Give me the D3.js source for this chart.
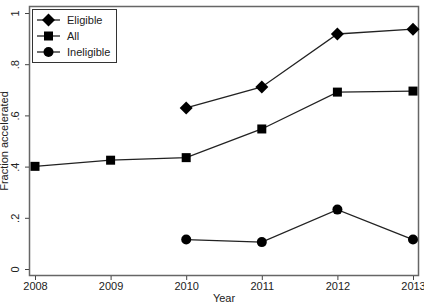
<!DOCTYPE html>
<html>
<head>
<meta charset="utf-8">
<script src="https://cdn.jsdelivr.net/npm/d3@7"></script>
<style>
  body { margin: 0; background: #fff; }
  text { font-family: "Liberation Sans", Arial, sans-serif; fill: #222; }
</style>
</head>
<body>
<script>
var years = [2008, 2009, 2010, 2011, 2012, 2013];
var eligible = [null, null, 0.629, 0.711, 0.918, 0.937];
var all = [0.401, 0.425, 0.435, 0.547, 0.691, 0.695];
var ineligible = [null, null, 0.115, 0.105, 0.232, 0.115];
var yTicks = [0, 0.2, 0.4, 0.6, 0.8, 1];
var yLabels = ["0", ".2", ".4", ".6", ".8", "1"];

var width = 424, height = 303;

var svg = d3.select("body").append("svg")
    .attr("width", width)
    .attr("height", height);

var x = d3.scaleLinear().domain([2008, 2013]).range([35, 413]);
var y = d3.scaleLinear().domain([0, 1]).range([269, 13]);

// plot region box
svg.append("rect")
    .attr("x", 29.5).attr("y", 6.5)
    .attr("width", 389).attr("height", 269)
    .attr("fill", "none")
    .attr("stroke", "#666")
    .attr("stroke-width", 1.5);

// x axis
var xAxis = svg.append("g")
    .attr("transform", "translate(0,276)")
    .call(d3.axisBottom(x).tickValues(years).tickFormat(d3.format("d")).tickSize(4).tickPadding(2));
xAxis.select(".domain").remove();
xAxis.selectAll("line").attr("stroke", "#444");
xAxis.selectAll("text").style("font-size", "11px").attr("fill", "#222");

// y axis, rotated labels
var yAxis = svg.append("g")
    .attr("transform", "translate(29,0)")
    .call(d3.axisLeft(y).tickValues(yTicks).tickFormat(function (d, i) { return yLabels[i]; }).tickSize(4));
yAxis.select(".domain").remove();
yAxis.selectAll("line").attr("stroke", "#444");
yAxis.selectAll("text")
    .style("font-size", "11px")
    .attr("fill", "#222")
    .attr("x", null).attr("dy", null)
    .attr("text-anchor", "middle")
    .attr("transform", "translate(-10,0) rotate(-90)");

// titles
svg.append("text")
    .attr("x", 224).attr("y", 302)
    .attr("text-anchor", "middle")
    .style("font-size", "11px")
    .text("Year");

svg.append("text")
    .attr("transform", "translate(8,141) rotate(-90)")
    .attr("text-anchor", "middle")
    .style("font-size", "11px")
    .text("Fraction accelerated");

var series = [
    { name: "Eligible", values: eligible, shape: "diamond" },
    { name: "All", values: all, shape: "square" },
    { name: "Ineligible", values: ineligible, shape: "circle" }
];

var line = d3.line()
    .defined(function (d) { return d.v != null; })
    .x(function (d) { return x(d.year); })
    .y(function (d) { return y(d.v); });

function drawMarker(g, shape, cx, cy) {
  if (shape === "diamond") {
    g.append("path")
        .attr("d", "M" + cx + "," + (cy - 6.5) + "L" + (cx + 6.5) + "," + cy + "L" + cx + "," + (cy + 6.5) + "L" + (cx - 6.5) + "," + cy + "Z")
        .attr("fill", "#000");
  } else if (shape === "square") {
    g.append("rect")
        .attr("x", cx - 4.5).attr("y", cy - 4.5)
        .attr("width", 9).attr("height", 9)
        .attr("fill", "#000");
  } else {
    g.append("circle")
        .attr("cx", cx).attr("cy", cy).attr("r", 5)
        .attr("fill", "#000");
  }
}

series.forEach(function (s) {
  var pts = years.map(function (yr, i) { return { year: yr, v: s.values[i] }; });
  svg.append("path")
      .datum(pts)
      .attr("d", line)
      .attr("fill", "none")
      .attr("stroke", "#222")
      .attr("stroke-width", 1.3);
  var g = svg.append("g");
  pts.forEach(function (p) {
    if (p.v != null) drawMarker(g, s.shape, x(p.year), y(p.v));
  });
});

// legend
var legend = svg.append("g");
legend.append("rect")
    .attr("x", 32.5).attr("y", 9.5)
    .attr("width", 84).attr("height", 53)
    .attr("fill", "#fff")
    .attr("stroke", "#333")
    .attr("stroke-width", 1);

series.forEach(function (s, i) {
  var ly = 20 + i * 16;
  legend.append("line")
      .attr("x1", 37).attr("x2", 60)
      .attr("y1", ly).attr("y2", ly)
      .attr("stroke", "#222")
      .attr("stroke-width", 1.3);
  drawMarker(legend, s.shape, 48.5, ly);
  legend.append("text")
      .attr("x", 67).attr("y", ly + 4)
      .style("font-size", "11px")
      .text(s.name);
});
</script>
</body>
</html>
